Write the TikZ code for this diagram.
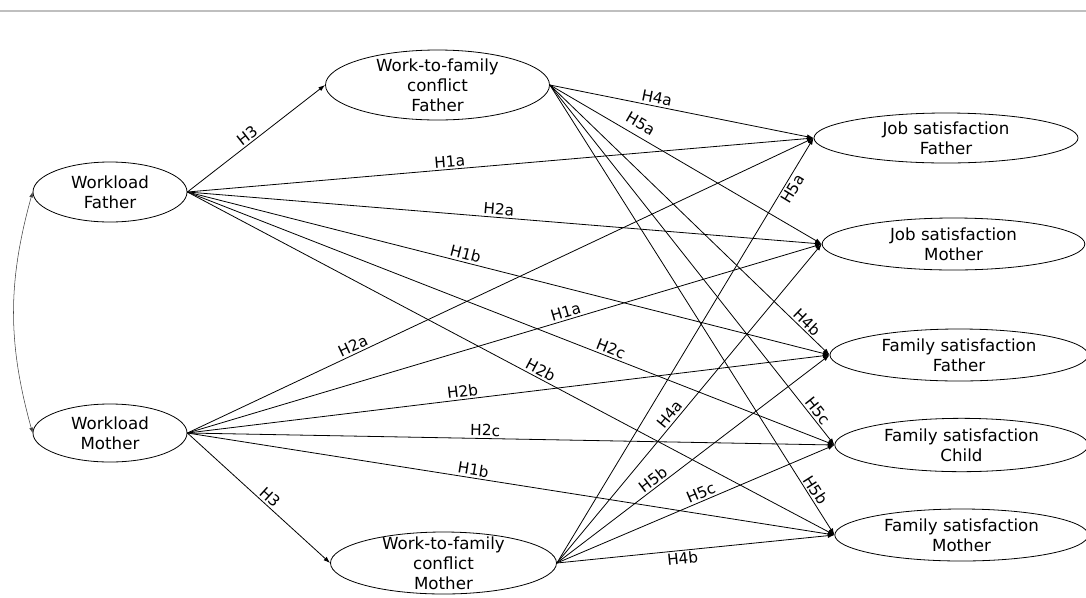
\documentclass[tikz,border=0pt]{standalone}
\usepackage{fontspec}
\setmainfont{DejaVu Sans}
\usepackage{tikz}
\usetikzlibrary{arrows.meta}
\usetikzlibrary{shapes.geometric}

\begin{document}
\begin{tikzpicture}[x=0.75pt,y=-0.75pt,
	var/.style={draw,ellipse,line width=0.6pt,inner xsep=0pt,inner ysep=-6pt,align=center,font=\fontsize{12.5}{15}\selectfont},
	reg/.style={-{Latex[length=5pt,width=3.5pt]},line width=0.6pt},
	hyp/.style={sloped,above,inner sep=1.5pt,font=\fontsize{11.5}{13}\selectfont}]
\useasboundingbox (0,0) rectangle (1086,597);

\draw [line width=1.2pt,black!25] (0,11) -- (1086,11);

\node[var,minimum width=115.5pt,minimum height=45pt] (wlf) at (110,192) {Workload\\Father};
\node[var,minimum width=115.5pt,minimum height=43.5pt] (wlm) at (110,433) {Workload\\Mother};

\node[var,minimum width=168pt,minimum height=52.5pt] (wfcf) at (437.5,85) {Work-to-family\\conflict\\Father};
\node[var,minimum width=169.5pt,minimum height=46.5pt] (wfcm) at (443.5,563) {Work-to-family\\conflict\\Mother};

\node[var,minimum width=198pt,minimum height=37.5pt] (jsf) at (946,138) {Job satisfaction\\Father};
\node[var,minimum width=197pt,minimum height=39pt] (jsm) at (953.5,244) {Job satisfaction\\Mother};
\node[var,minimum width=193.5pt,minimum height=39pt] (fsf) at (959,355) {Family satisfaction\\Father};
\node[var,minimum width=190pt,minimum height=40pt] (fsc) at (961.5,445) {Family satisfaction\\Child};
\node[var,minimum width=190pt,minimum height=39pt] (fsm) at (961.5,535) {Family satisfaction\\Mother};

\draw [{Latex[length=4pt,width=3pt]}-{Latex[length=4pt,width=3pt]},line width=0.4pt,black!75] (wlf.west) .. controls +(-25,90) and +(-25,-90) .. (wlm.west);

\draw [reg] (wlf.east) -- node[hyp,pos=.47] {H3} (wfcf.west);
\draw [reg] (wlf.east) -- node[hyp,pos=.42] {H1a} (jsf.west);
\draw [reg] (wlf.east) -- node[hyp,pos=.49] {H2a} (jsm.west);
\draw [reg] (wlf.east) -- node[hyp,pos=.43] {H1b} (fsf.west);
\draw [reg] (wlf.east) -- node[hyp,pos=.65] {H2c} (fsc.west);
\draw [reg] (wlf.east) -- node[hyp,pos=.54] {H2b} (fsm.west);

\draw [reg] (wlm.east) -- node[hyp,pos=.54] {H3} (wfcm.west);
\draw [reg] (wlm.east) -- node[hyp,pos=.27] {H2a} (jsf.west);
\draw [reg] (wlm.east) -- node[hyp,pos=.6] {H1a} (jsm.west);
\draw [reg] (wlm.east) -- node[hyp,pos=.43] {H2b} (fsf.west);
\draw [reg] (wlm.east) -- node[hyp,pos=.46] {H2c} (fsc.west);
\draw [reg] (wlm.east) -- node[hyp,pos=.44] {H1b} (fsm.west);

\draw [reg] (wfcf.east) -- node[hyp,pos=.4] {H4a} (jsf.west);
\draw [reg] (wfcf.east) -- node[hyp,pos=.31,inner sep=5pt] {H5a} (jsm.west);
\draw [reg] (wfcf.east) -- node[hyp,pos=.9] {H4b} (fsf.west);
\draw [reg] (wfcf.east) -- node[hyp,pos=.92] {H5c} (fsc.west);
\draw [reg] (wfcf.east) -- node[hyp,pos=.91] {H5b} (fsm.west);

\draw [reg] (wfcm.east) -- node[hyp,below,pos=.89] {H5a} (jsf.west);
\draw [reg] (wfcm.east) -- node[hyp,pos=.45] {H4a} (jsm.west);
\draw [reg] (wfcm.east) -- node[hyp,pos=.37] {H5b} (fsf.west);
\draw [reg] (wfcm.east) -- node[hyp,pos=.53] {H5c} (fsc.west);
\draw [reg] (wfcm.east) -- node[hyp,below,pos=.45] {H4b} (fsm.west);

\end{tikzpicture}
\end{document}
